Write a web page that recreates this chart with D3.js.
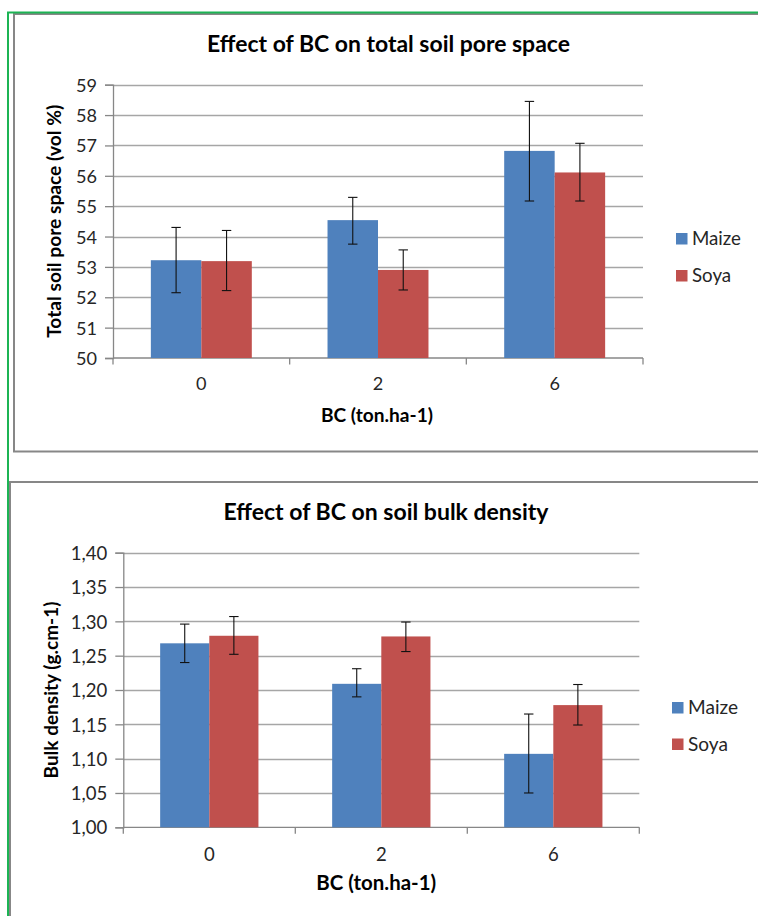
<!DOCTYPE html>
<html><head><meta charset="utf-8">
<script src="https://cdn.jsdelivr.net/npm/d3@7"></script>
<style>body{margin:0;background:#fff;overflow:hidden} svg{display:block}</style>
</head><body>
<script>
// ---------- DATA ----------
const categories = ["0", "2", "6"];
const seriesNames = ["Maize", "Soya"];

// Chart 1: total soil pore space (vol %)
const poreMaize     = [53.22, 54.54, 56.82];
const poreSoya      = [53.19, 52.90, 56.11];
const poreMaizeLow  = [52.15, 53.75, 55.17];
const poreMaizeHigh = [54.30, 55.29, 58.45];
const poreSoyaLow   = [52.22, 52.24, 55.17];
const poreSoyaHigh  = [54.20, 53.56, 57.07];
const poreTicks     = [50, 51, 52, 53, 54, 55, 56, 57, 58, 59];

// Chart 2: soil bulk density (g.cm-1)
const bulkMaize     = [1.268, 1.209, 1.107];
const bulkSoya      = [1.279, 1.278, 1.178];
const bulkMaizeLow  = [1.240, 1.190, 1.050];
const bulkMaizeHigh = [1.296, 1.231, 1.165];
const bulkSoyaLow   = [1.252, 1.256, 1.149];
const bulkSoyaHigh  = [1.307, 1.299, 1.208];
const bulkTicks     = [1.00, 1.05, 1.10, 1.15, 1.20, 1.25, 1.30, 1.35, 1.40];

const colors = ["#4f81bd", "#c0504d"];
const FONT = "Lato, 'Open Sans', sans-serif";

const W = 758, H = 916;
const svg = d3.select("body").append("svg").attr("width", W).attr("height", H);

function fit(sel, target) {
  const w = sel.node().getComputedTextLength();
  const fs = parseFloat(sel.attr("font-size"));
  sel.attr("font-size", (fs * target / w).toFixed(2));
}
function fitSize(text, weight, target) {
  const t = svg.append("text").attr("font-family", FONT).attr("font-weight", weight)
    .attr("font-size", 20).text(text);
  const w = t.node().getComputedTextLength();
  t.remove();
  return 20 * target / w;
}

// frames
svg.append("rect").attr("x", 14).attr("y", 14).attr("width", 760).attr("height", 437.5)
  .attr("fill", "none").attr("stroke", "#878787").attr("stroke-width", 2);
svg.append("rect").attr("x", 10).attr("y", 482).attr("width", 760).attr("height", 460)
  .attr("fill", "none").attr("stroke", "#878787").attr("stroke-width", 2);
svg.append("line").attr("x1", 8).attr("x2", 8).attr("y1", 12).attr("y2", H)
  .attr("stroke", "#1cb454").attr("stroke-width", 2);
svg.append("line").attr("x1", 7).attr("x2", W).attr("y1", 12.5).attr("y2", 12.5)
  .attr("stroke", "#1cb454").attr("stroke-width", 2);

function drawChart(cfg) {
  const g = svg.append("g");
  const x = d3.scaleBand().domain(categories).range([cfg.left, cfg.right]).padding(0);
  const y = d3.scaleLinear().domain(cfg.domain).range([cfg.bottom, cfg.top]);
  const bw = x.bandwidth() / 3.5;
  const xs = d3.scaleBand().domain(seriesNames).range([0, 2 * bw]).padding(0);
  const tickFs = fitSize(cfg.fmt(cfg.ticks[cfg.ticks.length - 1]), "normal", cfg.tickW);

  // gridlines
  g.append("g").selectAll("line").data(cfg.ticks.slice(1)).join("line")
    .attr("x1", cfg.left).attr("x2", cfg.right)
    .attr("y1", d => Math.round(y(d)) + 0.5).attr("y2", d => Math.round(y(d)) + 0.5)
    .attr("stroke", "#a6a6a6").attr("stroke-width", 1.3);

  // y axis
  const yAxis = d3.axisLeft(y).tickValues(cfg.ticks).tickSize(8).tickPadding(8)
    .tickFormat(cfg.fmt);
  const ya = g.append("g").attr("transform", `translate(${cfg.left},0)`).call(yAxis);
  ya.select(".domain").attr("stroke", "#878787").attr("stroke-width", 1.3);
  ya.selectAll(".tick line").attr("stroke", "#878787").attr("stroke-width", 1.3);
  ya.selectAll(".tick text").attr("font-family", FONT).attr("font-size", tickFs)
    .attr("fill", "#262626").attr("dy", "0.36em");

  // x axis baseline & boundary ticks
  const bounds = categories.map(c => x(c)).concat([cfg.right]);
  g.append("line").attr("x1", cfg.left).attr("x2", cfg.right)
    .attr("y1", y(cfg.domain[0])).attr("y2", y(cfg.domain[0]))
    .attr("stroke", "#878787").attr("stroke-width", 1.3);
  g.append("g").selectAll("line").data(bounds).join("line")
    .attr("x1", d => d).attr("x2", d => d)
    .attr("y1", y(cfg.domain[0])).attr("y2", y(cfg.domain[0]) + 6.5)
    .attr("stroke", "#878787").attr("stroke-width", 1.3);
  const xAxis = d3.axisBottom(x).tickSize(0).tickPadding(0);
  const xa = g.append("g").attr("transform", `translate(0,${cfg.xTickBase})`).call(xAxis);
  xa.select(".domain").remove();
  xa.selectAll(".tick text").attr("font-family", FONT).attr("font-size", tickFs)
    .attr("fill", "#262626").attr("dy", 0);

  // bars
  const rows = categories.map((c, i) => ({ c, vals: cfg.values.map((s, k) => ({
    k, v: s[i], lo: cfg.lows[k][i], hi: cfg.highs[k][i] })) }));
  const grp = g.append("g").selectAll("g").data(rows).join("g")
    .attr("transform", d => `translate(${x(d.c) + (x.bandwidth() - 2 * bw) / 2},0)`);
  grp.selectAll("rect").data(d => d.vals).join("rect")
    .attr("x", d => xs(seriesNames[d.k])).attr("width", xs.bandwidth())
    .attr("y", d => y(d.v)).attr("height", d => y(cfg.domain[0]) - y(d.v))
    .attr("fill", d => colors[d.k]);
  // error bars
  const eb = grp.selectAll("g.eb").data(d => d.vals).join("g").attr("class", "eb")
    .attr("transform", d => `translate(${xs(seriesNames[d.k]) + xs.bandwidth() / 2},0)`);
  eb.append("line").attr("x1", 0).attr("x2", 0).attr("y1", d => y(d.lo)).attr("y2", d => y(d.hi))
    .attr("stroke", "#111").attr("stroke-width", 1.1);
  eb.append("line").attr("x1", -4.7).attr("x2", 4.7).attr("y1", d => y(d.lo)).attr("y2", d => y(d.lo))
    .attr("stroke", "#111").attr("stroke-width", 1.1);
  eb.append("line").attr("x1", -4.7).attr("x2", 4.7).attr("y1", d => y(d.hi)).attr("y2", d => y(d.hi))
    .attr("stroke", "#111").attr("stroke-width", 1.1);

  // title
  const t = g.append("text").attr("x", cfg.titleX).attr("y", cfg.titleY).attr("text-anchor", "middle")
    .attr("font-family", FONT).attr("font-weight", "bold").attr("font-size", 20).attr("fill", "#000")
    .text(cfg.title);
  fit(t, cfg.titleW);
  // y label
  const yl = g.append("text").attr("transform", `translate(${cfg.ylX},${(cfg.top + cfg.bottom) / 2}) rotate(-90)`)
    .attr("text-anchor", "middle").attr("font-family", FONT).attr("font-weight", "bold")
    .attr("font-size", 16).attr("fill", "#000").text(cfg.ylabel);
  fit(yl, cfg.ylW);
  // x label
  const xl = g.append("text").attr("x", cfg.xlX).attr("y", cfg.xlY).attr("text-anchor", "middle")
    .attr("font-family", FONT).attr("font-weight", "bold").attr("font-size", 16).attr("fill", "#000")
    .text(cfg.xlabel);
  fit(xl, cfg.xlW);

  // legend
  const legFs = fitSize("Maize", "normal", cfg.legW);
  const lg = g.append("g").selectAll("g").data(seriesNames).join("g")
    .attr("transform", (d, i) => `translate(${cfg.legX},${cfg.legY + i * cfg.legGap})`);
  lg.append("rect").attr("x", 0).attr("y", -12).attr("width", 11.5).attr("height", 11.5)
    .attr("fill", (d, i) => colors[i]);
  lg.append("text").attr("x", 16).attr("y", 0).attr("font-family", FONT).attr("font-size", legFs)
    .attr("fill", "#262626").text(d => d);
}

drawChart({
  left: 113, right: 643, top: 84.7, bottom: 358,
  domain: [50, 59], ticks: poreTicks, fmt: d3.format("d"),
  values: [poreMaize, poreSoya], lows: [poreMaizeLow, poreSoyaLow], highs: [poreMaizeHigh, poreSoyaHigh],
  tickW: 21, xTickBase: 390,
  title: "Effect of BC on total soil pore space", titleX: 388.5, titleY: 52, titleW: 363,
  ylabel: "Total soil pore space (vol %)", ylX: 61, ylW: 233,
  xlabel: "BC (ton.ha-1)", xlX: 377, xlY: 422, xlW: 112,
  legX: 676, legY: 245, legGap: 37, legW: 49
});

drawChart({
  left: 123.3, right: 639.3, top: 552.7, bottom: 827.3,
  domain: [1.00, 1.40], ticks: bulkTicks, fmt: d => d3.format(".2f")(d).replace(".", ","),
  values: [bulkMaize, bulkSoya], lows: [bulkMaizeLow, bulkSoyaLow], highs: [bulkMaizeHigh, bulkSoyaHigh],
  tickW: 36.5, xTickBase: 860.5,
  title: "Effect of BC on soil bulk density", titleX: 386, titleY: 520, titleW: 325,
  ylabel: "Bulk density (g.cm-1)", ylX: 57.5, ylW: 177,
  xlabel: "BC (ton.ha-1)", xlX: 376.3, xlY: 890, xlW: 120,
  legX: 672, legY: 714, legGap: 36.5, legW: 50
});
</script>
</body></html>
